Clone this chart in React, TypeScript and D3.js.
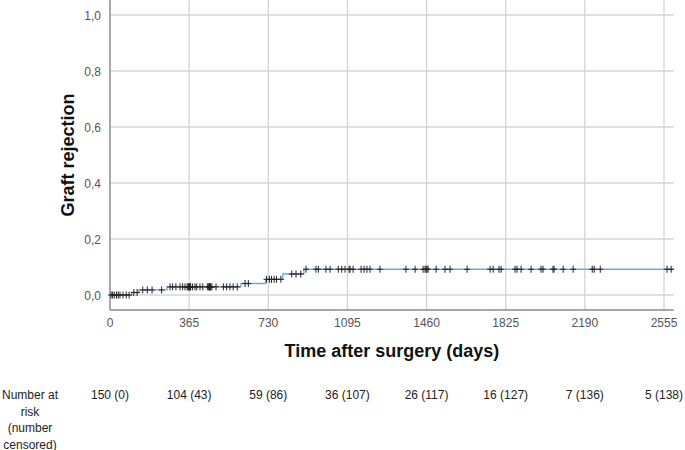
import React from "react";
import * as d3 from "d3";

// Step times (days) and cumulative incidence after each step
const eventDays = [0, 100, 133, 263, 604, 718, 797, 894];
const eventLevels = [0, 0.009, 0.018, 0.029, 0.041, 0.056, 0.075, 0.092];

// Censoring times (days)
const censorDays = [
  5, 12, 20, 30, 38, 46, 60, 75, 88,
  110, 125,
  151, 172, 194, 238,
  277, 289, 304, 323, 335, 346, 356, 360, 363, 366, 368, 370, 372, 381, 392, 400, 415, 428, 449, 455, 458, 460, 462, 464, 470, 489, 523, 538, 553, 568, 587,
  623, 638,
  722, 735, 745, 757, 768, 788,
  838, 858, 880,
  904, 950, 961, 996, 1015, 1053, 1069, 1084, 1103, 1107, 1121, 1158, 1172, 1185, 1199, 1245,
  1365, 1407, 1444, 1453, 1458, 1462, 1467, 1504, 1545, 1568, 1647, 1753, 1767, 1794, 1804,
  1868, 1877, 1896, 1942, 1988, 1997, 2043, 2048, 2090, 2136, 2224, 2233, 2261, 2569, 2588,
];

const xTicks = [0, 365, 730, 1095, 1460, 1825, 2190, 2555];
const yTicks = [0, 0.2, 0.4, 0.6, 0.8, 1.0];
const riskLabels = ["150 (0)", "104 (43)", "59 (86)", "36 (107)", "26 (117)", "16 (127)", "7 (136)", "5 (138)"];
const riskHeader = ["Number at", "risk", "(number", "censored)"];

const W = 685;
const H = 450;
const FONT = "Liberation Sans, Arial, sans-serif";

export default function App() {
  const x = d3.scaleLinear().domain([0, 2555]).range([110, 664]);
  const y = d3.scaleLinear().domain([0, 1]).range([295, 15]);
  const xMax = 2600;
  const plotTop = 0;
  const plotBottom = 310;

  const levelAt = (t: number) => {
    let v = 0;
    for (let i = 0; i < eventDays.length; i++) if (eventDays[i] <= t) v = eventLevels[i];
    return v;
  };

  const pts: [number, number][] = eventDays.map((d, i) => [d, eventLevels[i]]);
  pts.push([xMax, eventLevels[eventLevels.length - 1]]);
  const line = d3
    .line<[number, number]>()
    .x((d) => x(d[0]))
    .y((d) => y(d[1]))
    .curve(d3.curveStepAfter);

  const fmt = (v: number) => v.toFixed(1).replace(".", ",");

  return (
    <svg
      width={W}
      height={H}
      style={{ position: "absolute", left: 0, top: 0, background: "#fff" }}
      fontFamily={FONT}
    >
      {/* gridlines */}
      {yTicks.map((t) => (
        <line key={"gy" + t} x1={x(0)} x2={x(xMax)} y1={y(t)} y2={y(t)} stroke="#d4d4d4" strokeWidth={1.3} />
      ))}
      {xTicks.map((t) => (
        <line key={"gx" + t} x1={x(t)} x2={x(t)} y1={plotTop} y2={plotBottom} stroke="#d4d4d4" strokeWidth={1.3} />
      ))}
      {/* axes */}
      <line x1={x(0)} x2={x(0)} y1={plotTop} y2={plotBottom} stroke="#8a8a8a" strokeWidth={1.3} />
      <line x1={x(0)} x2={x(xMax)} y1={plotBottom} y2={plotBottom} stroke="#8a8a8a" strokeWidth={1.3} />

      {/* tick labels */}
      {yTicks.map((t) => (
        <text key={"ly" + t} x={101} y={y(t) + 4.5} textAnchor="end" fontSize={12} fill="#555">
          {fmt(t)}
        </text>
      ))}
      {xTicks.map((t) => (
        <text key={"lx" + t} x={x(t)} y={327} textAnchor="middle" fontSize={12} fill="#555">
          {t}
        </text>
      ))}

      {/* curve */}
      <path d={line(pts) || ""} fill="none" stroke="#6fa8e0" strokeWidth={1.3} />
      {/* censor marks */}
      {censorDays.map((d, i) => {
        const cx = x(d);
        const cy = y(levelAt(d));
        return (
          <g key={"c" + i} stroke="#222" strokeWidth={1}>
            <line x1={cx - 3} x2={cx + 3} y1={cy} y2={cy} />
            <line x1={cx} x2={cx} y1={cy - 3.5} y2={cy + 3.5} />
          </g>
        );
      })}

      {/* axis titles */}
      <text
        transform={`translate(73.5,155) rotate(-90)`}
        textAnchor="middle"
        fontSize={18}
        fontWeight="bold"
        fill="#111"
      >
        Graft rejection
      </text>
      <text x={392} y={356.5} textAnchor="middle" fontSize={18} fontWeight="bold" fill="#111">
        Time after surgery (days)
      </text>

      {/* number at risk */}
      {riskHeader.map((s, i) => (
        <text key={"rh" + i} x={30} y={399 + i * 16.5} textAnchor="middle" fontSize={12} fill="#222">
          {s}
        </text>
      ))}
      {riskLabels.map((s, i) => (
        <text key={"rl" + i} x={x(xTicks[i])} y={399} textAnchor="middle" fontSize={12} fill="#222">
          {s}
        </text>
      ))}
    </svg>
  );
}
